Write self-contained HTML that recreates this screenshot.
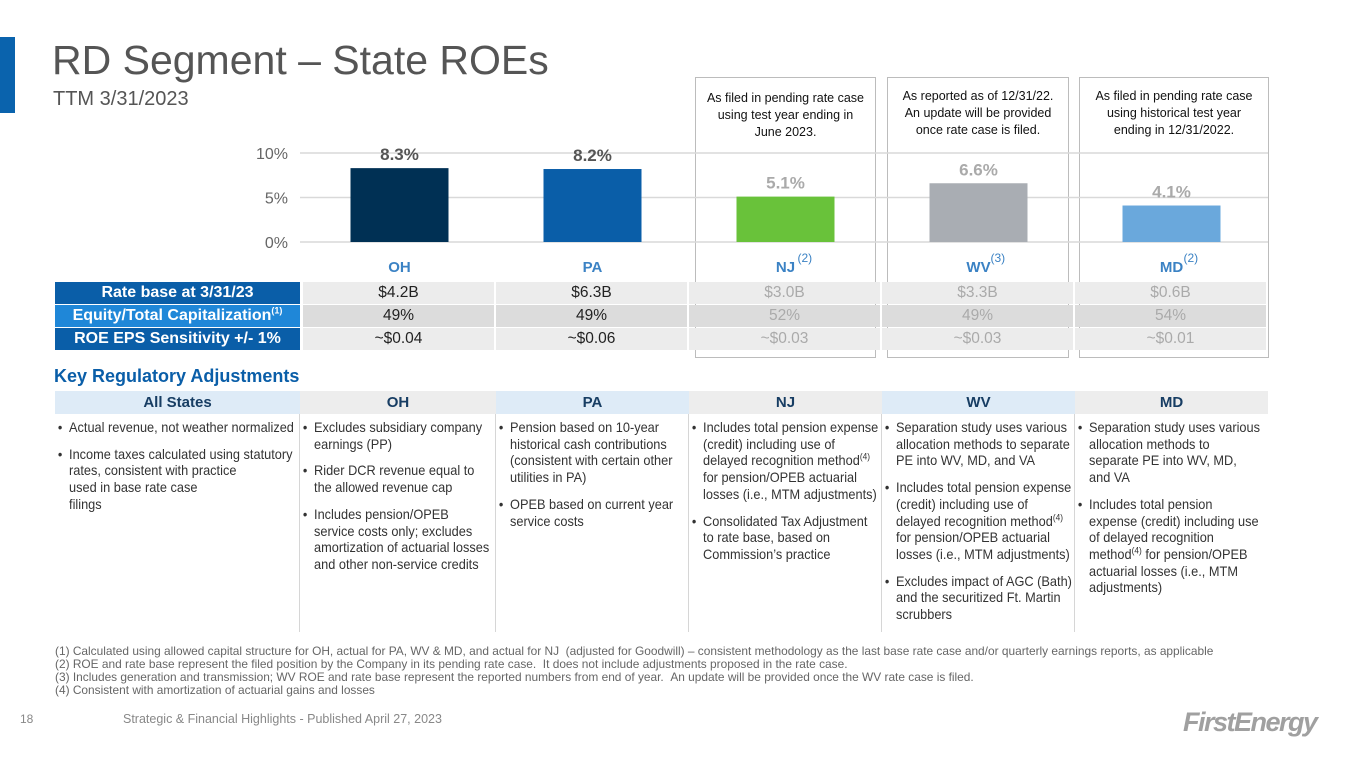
<!DOCTYPE html>
<html><head><meta charset="utf-8">
<style>
*{margin:0;padding:0;box-sizing:border-box}
body{width:1365px;height:768px;background:#fff;position:relative;overflow:hidden;font-family:"Liberation Sans",sans-serif;color:#333}
.abs{position:absolute}
.sans{font-family:"Liberation Sans",sans-serif}
.box{position:absolute;border:1.5px solid #bcbcbc;top:77px;height:281px}
.note{position:absolute;top:90px;text-align:center;font-size:12.5px;line-height:17px;color:#111;white-space:nowrap}
.cell{position:absolute;height:22px;line-height:22px;text-align:center;font-size:15.5px;white-space:nowrap}
.lab{position:absolute;left:55px;width:245px;height:22px;line-height:22px;text-align:center;color:#fff;font-weight:bold;font-size:16px;white-space:nowrap}
.hdr{position:absolute;top:391px;height:23px;line-height:23px;text-align:center;font-weight:bold;font-size:15px;color:#173d63}
.col{position:absolute;top:420px;font-size:13.8px;line-height:16.7px;color:#333;white-space:nowrap;transform:scaleX(0.925);transform-origin:left top}
.col div{position:relative;padding-left:13px;margin-bottom:10px}
.col div:before{content:"•";position:absolute;left:1px}
.vsep{position:absolute;top:414px;height:218px;width:1px;background:#d6d6d6}
sup{font-size:9px;line-height:0}
.fn{position:absolute;left:55px;top:645px;font-size:11.9px;line-height:13px;color:#666;font-family:"Liberation Sans",sans-serif;white-space:nowrap}
</style></head><body>
<div class="abs" style="left:0;top:37px;width:15px;height:76px;background:#0a63ad"></div>
<div class="abs sans" style="left:52px;top:37px;font-size:41px;color:#555;white-space:nowrap">RD Segment – State ROEs</div>
<div class="abs sans" style="left:53px;top:88px;font-size:20px;color:#555">TTM 3/31/2023</div>

<div class="box" style="left:695px;width:181px"></div>
<div class="box" style="left:887px;width:182px"></div>
<div class="box" style="left:1079px;width:190px"></div>
<div class="note" style="left:695px;width:181px">As filed in pending rate case<br>using test year ending in<br>June 2023.</div>
<div class="note" style="left:887px;width:182px;top:88px">As reported as of 12/31/22.<br>An update will be provided<br>once rate case is filed.</div>
<div class="note" style="left:1079px;width:190px;top:88px">As filed in pending rate case<br>using historical test year<br>ending in 12/31/2022.</div>

<svg id="chart" class="abs" style="left:0;top:0" width="1365" height="290"></svg>

<div class="lab" style="top:282px;background:#0a5ea8">Rate base at 3/31/23</div>
<div class="lab" style="top:305px;background:#1f87d8">Equity/Total Capitalization<sup>(1)</sup></div>
<div class="lab" style="top:328px;background:#0a5ea8">ROE EPS Sensitivity +/- 1%</div>
<div id="tbl"></div>

<div class="abs sans" style="left:54px;top:366px;font-size:18px;font-weight:bold;color:#0a5ea8">Key Regulatory Adjustments</div>

<div class="hdr" style="left:55px;width:245px;background:#deebf7">All States</div>
<div class="hdr" style="left:300px;width:196px;background:#ededed">OH</div>
<div class="hdr" style="left:496px;width:193px;background:#deebf7">PA</div>
<div class="hdr" style="left:689px;width:193px;background:#ededed">NJ</div>
<div class="hdr" style="left:882px;width:193px;background:#deebf7">WV</div>
<div class="hdr" style="left:1075px;width:193px;background:#ededed">MD</div>
<div class="vsep" style="left:299px"></div><div class="vsep" style="left:495px"></div><div class="vsep" style="left:688px"></div><div class="vsep" style="left:881px"></div><div class="vsep" style="left:1074px"></div>

<div class="col" style="left:57px"><div>Actual revenue, not weather normalized</div><div>Income taxes calculated using statutory<br>rates, consistent with practice<br>used in base rate case<br>filings</div></div>
<div class="col" style="left:302px"><div>Excludes subsidiary company<br>earnings (PP)</div><div>Rider DCR revenue equal to<br>the allowed revenue cap</div><div>Includes pension/OPEB<br>service costs only; excludes<br>amortization of actuarial losses<br>and other non-service credits</div></div>
<div class="col" style="left:498px"><div>Pension based on 10-year<br>historical cash contributions<br>(consistent with certain other<br>utilities in PA)</div><div>OPEB based on current year<br>service costs</div></div>
<div class="col" style="left:691px"><div>Includes total pension expense<br>(credit) including use of<br>delayed recognition method<sup>(4)</sup><br>for pension/OPEB actuarial<br>losses (i.e., MTM adjustments)</div><div>Consolidated Tax Adjustment<br>to rate base, based on<br>Commission’s practice</div></div>
<div class="col" style="left:884px"><div>Separation study uses various<br>allocation methods to separate<br>PE into WV, MD, and VA</div><div>Includes total pension expense<br>(credit) including use of<br>delayed recognition method<sup>(4)</sup><br>for pension/OPEB actuarial<br>losses (i.e., MTM adjustments)</div><div>Excludes impact of AGC (Bath)<br>and the securitized Ft. Martin<br>scrubbers</div></div>
<div class="col" style="left:1077px"><div>Separation study uses various<br>allocation methods to<br>separate PE into WV, MD,<br>and VA</div><div>Includes total pension<br>expense (credit) including use<br>of delayed recognition<br>method<sup>(4)</sup> for pension/OPEB<br>actuarial losses (i.e., MTM<br>adjustments)</div></div>

<div class="fn">(1) Calculated using allowed capital structure for OH, actual for PA, WV &amp; MD, and actual for NJ &nbsp;(adjusted for Goodwill) – consistent methodology as the last base rate case and/or quarterly earnings reports, as applicable<br>(2) ROE and rate base represent the filed position by the Company in its pending rate case. &nbsp;It does not include adjustments proposed in the rate case.<br>(3) Includes generation and transmission; WV ROE and rate base represent the reported numbers from end of year. &nbsp;An update will be provided once the WV rate case is filed.<br>(4) Consistent with amortization of actuarial gains and losses</div>
<div class="abs sans" style="left:20px;top:712px;font-size:12px;color:#888">18</div>
<div class="abs sans" style="left:123px;top:712px;font-size:12.5px;color:#888">Strategic &amp; Financial Highlights - Published April 27, 2023</div>
<div class="abs sans" style="left:1183px;top:707px;font-size:27px;font-style:italic;font-weight:bold;color:#a0a0a0;letter-spacing:-1.5px">FirstEnergy</div>

<script>
const states=["OH","PA","NJ","WV","MD"];
const roe=[8.3,8.2,5.1,6.6,4.1];
const roeLabels=["8.3%","8.2%","5.1%","6.6%","4.1%"];
const stateNotes=["","","(2)","(3)","(2)"];
const yTicks=[0,5,10];
const rateBase=["$4.2B","$6.3B","$3.0B","$3.3B","$0.6B"];
const equityCap=["49%","49%","52%","49%","54%"];
const epsSens=["~$0.04","~$0.06","~$0.03","~$0.03","~$0.01"];
const colors=["#003054","#0a5ea8","#69c23a","#a9adb3","#6aa8dc"];
const faded=[false,false,true,true,true];
const NS="http://www.w3.org/2000/svg";
const svg=document.getElementById('chart');
const y0=242,pxPer=8.9,x0=303,step=193,barW=98;
const yS=v=>y0-v*pxPer;
const xC=i=>x0+step*i+step/2;
function mk(t,a,txt){const e=document.createElementNS(NS,t);for(const k in a)e.setAttribute(k,a[k]);if(txt!==undefined)e.textContent=txt;svg.appendChild(e);return e;}
yTicks.forEach(t=>{
 const l=mk('line',{x1:300,x2:1268,y1:yS(t),y2:yS(t),stroke:'#d9d9d9','stroke-width':1.5});
 
 
 const tx=mk('text',{x:288,y:yS(t)+6,'text-anchor':'end','font-family':'Liberation Sans, sans-serif','font-size':16,fill:'#666'},t+'%');
 
 
});
states.forEach((s,i)=>{
 const r=mk('rect',{x:xC(i)-barW/2,y:yS(roe[i]),width:barW,height:roe[i]*pxPer,fill:colors[i]});
 
 
 const v=mk('text',{x:xC(i),y:yS(roe[i])-8,'text-anchor':'middle','font-family':'Liberation Sans, sans-serif','font-weight':'bold','font-size':17,fill:faded[i]?'#aaa':'#555'},roeLabels[i]);
 
 
 const c=mk('text',{x:xC(i),y:272,'text-anchor':'middle','font-family':'Liberation Sans, sans-serif','font-weight':'bold','font-size':15,fill:'#3b82c4'},s);
 
 
 if(stateNotes[i]){const n=mk('text',{x:xC(i)+12,y:262,'font-family':'Liberation Sans, sans-serif','font-size':12,fill:'#3b82c4'},stateNotes[i]);
 
 }
});
const tbl=document.getElementById('tbl');
[[rateBase,282,'#ececec'],[equityCap,305,'#dcdcdc'],[epsSens,328,'#ececec']].forEach(([arr,top,bg])=>{
 arr.forEach((v,i)=>{
  const d=document.createElement('div');
  d.className='cell';
  d.style.cssText=`left:${x0+step*i}px;width:${step-2}px;top:${top}px;background:${bg};color:${faded[i]?'#aaa':'#222'}`;
  d.textContent=v;
  
  
  tbl.appendChild(d);
 });
});
</script>
</body></html>
